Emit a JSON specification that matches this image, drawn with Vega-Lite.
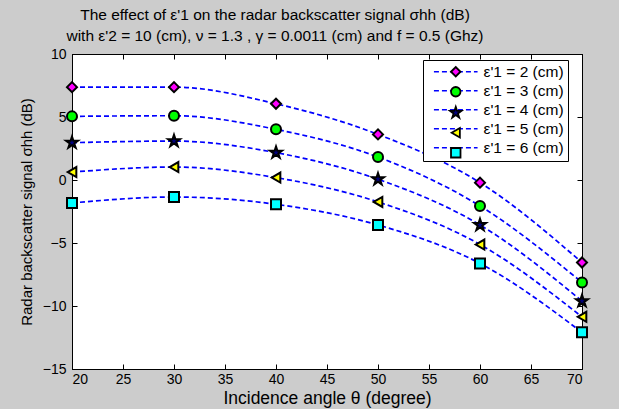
{
  "$schema": "https://vega.github.io/schema/vega-lite/v6.json",
  "width": 510,
  "height": 315,
  "autosize": {"type": "none"},
  "padding": {"left": 72, "top": 54, "right": 37, "bottom": 40},
  "background": "#cccccc",
  "title": {
    "text": ["The effect of ε'1 on the radar backscatter signal σhh (dB)", "with ε'2 = 10 (cm), ν = 1.3 , γ = 0.0011 (cm) and f = 0.5 (Ghz)"],
    "font": "Liberation Sans",
    "fontSize": 15.5,
    "fontWeight": "normal",
    "color": "black",
    "anchor": "middle",
    "lineHeight": 21,
    "offset": 3,
    "dx": -52
  },
  "config": {
    "view": {"fill": "white", "stroke": "black", "strokeWidth": 1},
    "axis": {
      "grid": false,
      "labelFont": "Liberation Sans",
      "labelFontSize": 14,
      "labelColor": "black",
      "titleFont": "Liberation Sans",
      "titleFontSize": 15,
      "titleFontWeight": "normal",
      "titleColor": "black",
      "domainColor": "black",
      "tickColor": "black",
      "tickSize": -5,
      "tickWidth": 1
    },
    "legend": {
      "labelFont": "Liberation Sans",
      "labelFontSize": 15.5,
      "labelColor": "black"
    }
  },
  "data": {
    "values": [
      {"angle": 20, "sigma": 7.37, "series": "ε'1 = 2 (cm)"},
      {"angle": 30, "sigma": 7.37, "series": "ε'1 = 2 (cm)"},
      {"angle": 40, "sigma": 6.05, "series": "ε'1 = 2 (cm)"},
      {"angle": 50, "sigma": 3.62, "series": "ε'1 = 2 (cm)"},
      {"angle": 60, "sigma": -0.21, "series": "ε'1 = 2 (cm)"},
      {"angle": 70, "sigma": -6.55, "series": "ε'1 = 2 (cm)"},
      {"angle": 20, "sigma": 5.05, "series": "ε'1 = 3 (cm)"},
      {"angle": 30, "sigma": 5.1, "series": "ε'1 = 3 (cm)"},
      {"angle": 40, "sigma": 4.02, "series": "ε'1 = 3 (cm)"},
      {"angle": 50, "sigma": 1.82, "series": "ε'1 = 3 (cm)"},
      {"angle": 60, "sigma": -2.06, "series": "ε'1 = 3 (cm)"},
      {"angle": 70, "sigma": -8.13, "series": "ε'1 = 3 (cm)"},
      {"angle": 20, "sigma": 2.96, "series": "ε'1 = 4 (cm)"},
      {"angle": 30, "sigma": 3.09, "series": "ε'1 = 4 (cm)"},
      {"angle": 40, "sigma": 2.17, "series": "ε'1 = 4 (cm)"},
      {"angle": 50, "sigma": 0.06, "series": "ε'1 = 4 (cm)"},
      {"angle": 60, "sigma": -3.57, "series": "ε'1 = 4 (cm)"},
      {"angle": 70, "sigma": -9.61, "series": "ε'1 = 4 (cm)"},
      {"angle": 20, "sigma": 0.63, "series": "ε'1 = 5 (cm)"},
      {"angle": 30, "sigma": 1.03, "series": "ε'1 = 5 (cm)"},
      {"angle": 40, "sigma": 0.19, "series": "ε'1 = 5 (cm)"},
      {"angle": 50, "sigma": -1.74, "series": "ε'1 = 5 (cm)"},
      {"angle": 60, "sigma": -5.12, "series": "ε'1 = 5 (cm)"},
      {"angle": 70, "sigma": -10.86, "series": "ε'1 = 5 (cm)"},
      {"angle": 20, "sigma": -1.82, "series": "ε'1 = 6 (cm)"},
      {"angle": 30, "sigma": -1.35, "series": "ε'1 = 6 (cm)"},
      {"angle": 40, "sigma": -1.93, "series": "ε'1 = 6 (cm)"},
      {"angle": 50, "sigma": -3.57, "series": "ε'1 = 6 (cm)"},
      {"angle": 60, "sigma": -6.62, "series": "ε'1 = 6 (cm)"},
      {"angle": 70, "sigma": -12.09, "series": "ε'1 = 6 (cm)"}
    ]
  },
  "layer": [
    {
      "mark": {"type": "line", "interpolate": "monotone", "strokeDash": [5, 3], "strokeWidth": 1.7},
      "encoding": {
        "x": {
          "field": "angle", "type": "quantitative",
          "scale": {"domain": [20, 70], "nice": false, "zero": false},
          "axis": {"orient": "bottom", "values": [20, 25, 30, 35, 40, 45, 50, 55, 60, 65, 70], "title": "Incidence angle θ (degree)", "titleFontSize": 17.5, "labelPadding": 8, "titlePadding": 3}
        },
        "y": {
          "field": "sigma", "type": "quantitative",
          "scale": {"domain": [-15, 10], "nice": false, "zero": false},
          "axis": {"orient": "left", "values": [-15, -10, -5, 0, 5, 10], "title": "Radar backscatter signal σhh (dB)", "labelPadding": 11, "titlePadding": 8}
        },
        "stroke": {
          "field": "series", "type": "nominal",
          "scale": {"domain": ["ε'1 = 2 (cm)", "ε'1 = 3 (cm)", "ε'1 = 4 (cm)", "ε'1 = 5 (cm)", "ε'1 = 6 (cm)"], "range": ["#0000ff", "#0000ff", "#0000ff", "#0000ff", "#0000ff"]},
          "legend": {
            "title": null,
            "orient": "none",
            "legendX": 351,
            "legendY": 6,
            "padding": 4,
            "fillColor": "white",
            "strokeColor": "black",
            "symbolType": "M-4.6,0H4.6",
            "symbolSize": 90,
            "symbolDash": [5, 3],
            "symbolStrokeWidth": 1.7,
            "symbolOffset": 21,
            "labelOffset": 20,
            "rowPadding": 2
          }
        }
      }
    },
    {
      "mark": {"type": "point", "filled": true, "size": 100, "opacity": 1, "stroke": "black", "strokeWidth": 2},
      "encoding": {
        "x": {
          "field": "angle", "type": "quantitative",
          "axis": {"orient": "top", "values": [20, 25, 30, 35, 40, 45, 50, 55, 60, 65, 70], "labels": false, "title": null}
        },
        "y": {
          "field": "sigma", "type": "quantitative",
          "axis": {"orient": "right", "values": [-15, -10, -5, 0, 5, 10], "labels": false, "title": null}
        },
        "shape": {
          "field": "series", "type": "nominal",
          "scale": {"range": ["diamond", "circle", "M0,-1.25L0.281,-0.386L1.189,-0.386L0.454,0.148L0.735,1.011L0,0.478L-0.735,1.011L-0.454,0.148L-1.189,-0.386L-0.281,-0.386Z", "triangle-left", "square"]},
          "legend": {
            "title": null,
            "orient": "none",
            "legendX": 351,
            "legendY": 6,
            "padding": 4,
            "symbolSize": 90,
            "symbolStrokeWidth": 1.8,
            "symbolOffset": 21,
            "labelExpr": "''",
            "labelOffset": 20,
            "rowPadding": 2
          }
        },
        "color": {
          "field": "series", "type": "nominal",
          "scale": {"range": ["#ff00ff", "#00ff00", "#000080", "#ffff00", "#00ffff"]},
          "legend": {
            "title": null,
            "orient": "none",
            "legendX": 351,
            "legendY": 6,
            "padding": 4,
            "symbolSize": 90,
            "symbolStrokeWidth": 1.8,
            "symbolOffset": 21,
            "labelExpr": "''",
            "labelOffset": 20,
            "rowPadding": 2
          }
        }
      }
    }
  ],
  "resolve": {"axis": {"x": "independent", "y": "independent"}}
}
